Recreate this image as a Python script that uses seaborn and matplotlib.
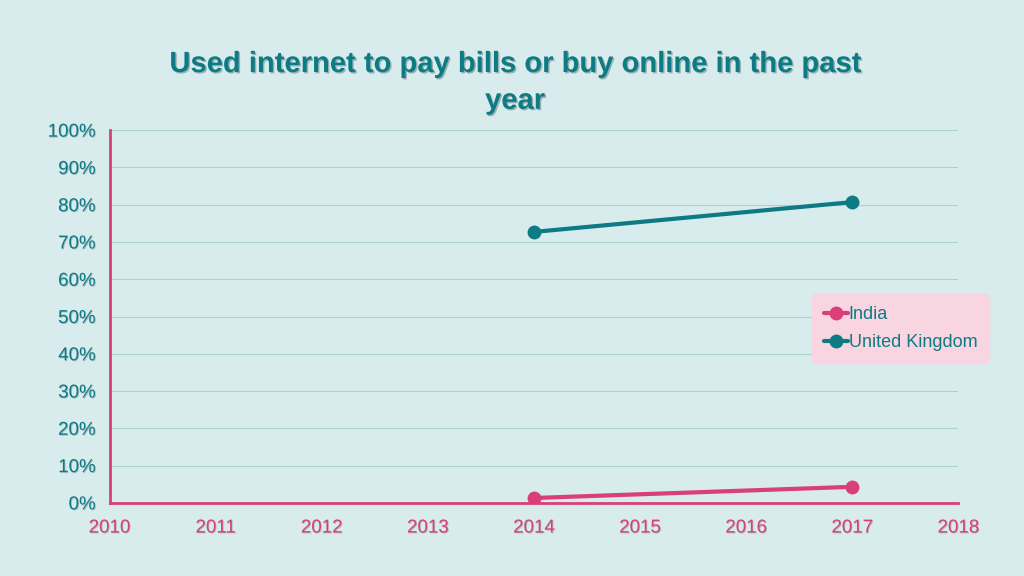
import pandas as pd
import seaborn as sns
import matplotlib.pyplot as plt
import matplotlib.patheffects as pe
from matplotlib.ticker import PercentFormatter

# data
years = [2014, 2017]
india = [1.3, 4.3]
uk = [72.7, 80.7]
countries = ["India", "United Kingdom"]

bg = "#d8ebed"
teal = "#0d7b84"
pink = "#d93f78"

df = pd.DataFrame({
    "year": years * 2,
    "value": india + uk,
    "country": [countries[0]] * len(years) + [countries[1]] * len(years),
})

sns.set_theme(style="white")
plt.rcParams["font.family"] = ["Liberation Sans", "DejaVu Sans"]

fig, ax = plt.subplots(figsize=(10.24, 5.76), dpi=100)
fig.patch.set_facecolor(bg)
ax.set_facecolor(bg)
fig.subplots_adjust(left=0.107, right=0.936, bottom=0.127, top=0.774)

sns.lineplot(data=df, x="year", y="value", hue="country",
             palette={"India": pink, "United Kingdom": teal},
             marker="o", markersize=10, linewidth=3, markeredgewidth=0, ax=ax)

ax.set_xlim(2010, 2018)
ax.set_ylim(0, 100)
ax.set_xticks(range(2010, 2019))
ax.set_yticks(range(0, 101, 10))
ax.yaxis.set_major_formatter(PercentFormatter(decimals=0))
ax.grid(axis="y", color="#a9d4c6", linewidth=0.8)
ax.set_axisbelow(True)
ax.set_xlabel("")
ax.set_ylabel("")

for side in ["top", "right"]:
    ax.spines[side].set_visible(False)
for side in ["left", "bottom"]:
    ax.spines[side].set_color(pink)
    ax.spines[side].set_linewidth(2)

ax.tick_params(axis="x", colors=pink, labelsize=13.5, length=0, pad=12)
ax.tick_params(axis="y", colors=teal, labelsize=13.5, length=0, pad=10)
for lbl in ax.get_xticklabels() + ax.get_yticklabels():
    lbl.set_path_effects([pe.withSimplePatchShadow(offset=(0.6, -0.6), alpha=0.25)])

fig.text(0.503, 0.857, "Used internet to pay bills or buy online in the past\nyear",
         ha="center", va="center", fontsize=21, fontweight="heavy", color=teal,
         linespacing=1.4,
         path_effects=[pe.withSimplePatchShadow(offset=(1, -1), alpha=0.3)])

leg = ax.legend(title=None, loc="center left", bbox_to_anchor=(0.828, 0.468),
                frameon=True, fontsize=13, handlelength=1.3, handletextpad=0.05,
                borderpad=0.65, labelspacing=0.6, borderaxespad=0)
leg.get_frame().set_facecolor("#f8d5e1")
leg.get_frame().set_edgecolor("#f8d5e1")
leg.get_frame().set_alpha(1)
for txt in leg.get_texts():
    txt.set_color(teal)

fig.savefig("out.png", dpi=100, facecolor=bg)
